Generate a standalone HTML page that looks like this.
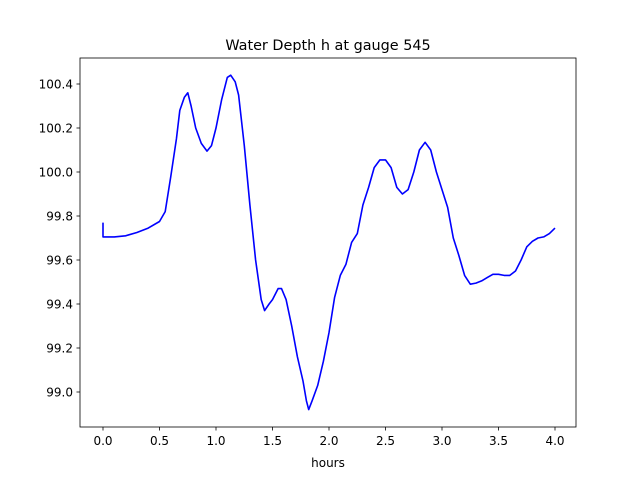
<!DOCTYPE html>
<html><head><meta charset="utf-8"><style>
body{margin:0;background:#fff;font-family:"Liberation Sans","DejaVu Sans",sans-serif}
</style></head><body>
<svg id="chart" width="640" height="480" xmlns="http://www.w3.org/2000/svg">
<rect width="640" height="480" fill="#fff"/>
<text x="328" y="50" font-size="14.4" text-anchor="middle" font-family="DejaVu Sans, sans-serif">Water Depth h at gauge 545</text>
<g id="ticks"></g>
<path id="line" fill="none" stroke="#0000ff" stroke-width="1.6" stroke-linejoin="round"/>
<rect x="80" y="58" width="496" height="369" fill="none" stroke="#000" stroke-width="0.8"/>
<text x="328" y="467" font-size="12" text-anchor="middle" font-family="DejaVu Sans, sans-serif">hours</text>
</svg>
<script>
const times=[0,0,0.1,0.2,0.3,0.4,0.5,0.55,0.6,0.65,0.68,0.72,0.75,0.78,0.82,0.87,0.92,0.96,1.0,1.05,1.1,1.13,1.17,1.2,1.25,1.3,1.35,1.4,1.43,1.47,1.5,1.55,1.58,1.62,1.67,1.72,1.77,1.8,1.82,1.85,1.9,1.95,2.0,2.05,2.1,2.15,2.2,2.25,2.3,2.35,2.4,2.45,2.5,2.55,2.6,2.65,2.7,2.75,2.8,2.85,2.9,2.95,3.0,3.05,3.1,3.15,3.2,3.25,3.3,3.35,3.4,3.45,3.5,3.55,3.6,3.65,3.7,3.75,3.8,3.85,3.9,3.95,4.0];
const depths=[99.77,99.705,99.705,99.71,99.725,99.745,99.775,99.82,99.98,100.15,100.28,100.34,100.36,100.3,100.2,100.13,100.095,100.12,100.2,100.33,100.43,100.44,100.41,100.35,100.12,99.85,99.6,99.42,99.37,99.4,99.42,99.47,99.47,99.42,99.3,99.16,99.05,98.96,98.92,98.96,99.03,99.14,99.27,99.43,99.53,99.58,99.68,99.72,99.85,99.93,100.02,100.055,100.055,100.02,99.93,99.9,99.92,100.0,100.1,100.135,100.1,100.0,99.92,99.84,99.7,99.62,99.53,99.49,99.495,99.505,99.52,99.535,99.535,99.53,99.53,99.55,99.6,99.66,99.685,99.7,99.705,99.72,99.745];
const xTicks=[0,0.5,1,1.5,2,2.5,3,3.5,4];
const yTicks=[99.0,99.2,99.4,99.6,99.8,100.0,100.2,100.4];
const X=t=>103+t*113, Y=v=>84+(100.4-v)*220;
const NS="http://www.w3.org/2000/svg", g=document.getElementById('ticks');
xTicks.forEach(t=>{
 const l=document.createElementNS(NS,'line');
 
 
 l.setAttribute('x1',X(t));l.setAttribute('x2',X(t));l.setAttribute('y1',427);l.setAttribute('y2',430.5);l.setAttribute('stroke','#000');l.setAttribute('stroke-width','0.8');g.appendChild(l);
 const tx=document.createElementNS(NS,'text');
 
 
 tx.setAttribute('x',X(t));tx.setAttribute('y',445);tx.setAttribute('font-size','12');tx.setAttribute('text-anchor','middle');tx.setAttribute('font-family','DejaVu Sans, sans-serif');tx.textContent=t.toFixed(1);g.appendChild(tx);
});
yTicks.forEach(v=>{
 const l=document.createElementNS(NS,'line');
 
 
 l.setAttribute('x1',76.5);l.setAttribute('x2',80);l.setAttribute('y1',Y(v));l.setAttribute('y2',Y(v));l.setAttribute('stroke','#000');l.setAttribute('stroke-width','0.8');g.appendChild(l);
 const tx=document.createElementNS(NS,'text');
 
 
 tx.setAttribute('x',73);tx.setAttribute('y',Y(v)+4.5);tx.setAttribute('font-size','12');tx.setAttribute('text-anchor','end');tx.setAttribute('font-family','DejaVu Sans, sans-serif');tx.textContent=v.toFixed(1);g.appendChild(tx);
});
document.getElementById('line').setAttribute('d',times.map((t,i)=>(i?'L':'M')+X(t).toFixed(1)+','+Y(depths[i]).toFixed(1)).join(''));
</script>
</body></html>
